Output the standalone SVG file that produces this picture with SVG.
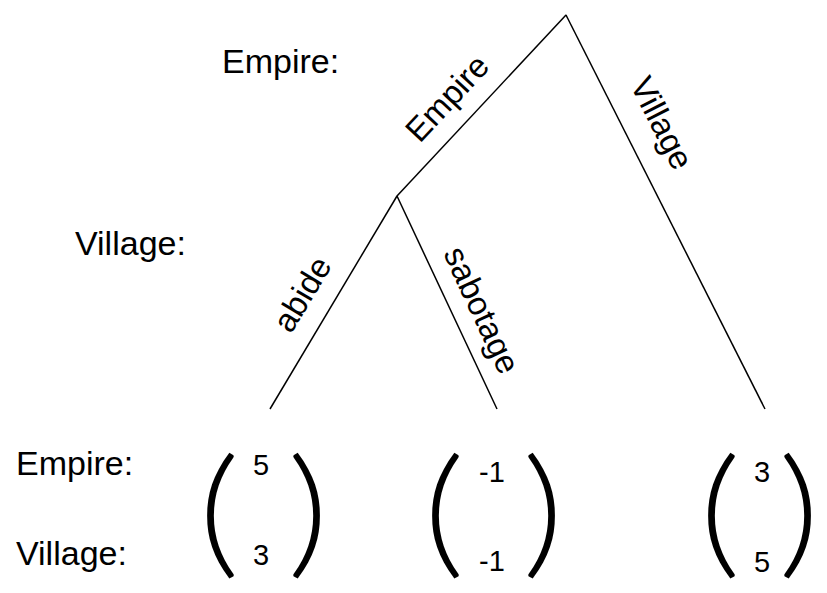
<svg xmlns="http://www.w3.org/2000/svg" width="827" height="593" viewBox="0 0 827 593">
<style>
.t{font-family:"Liberation Sans",Arial,sans-serif;font-size:34px;fill:#000}
.n{font-family:"Liberation Sans",Arial,sans-serif;font-size:29px;fill:#000;text-anchor:middle}
.p{font-family:Lato,"Liberation Sans",sans-serif;font-weight:300;font-size:140px;fill:#000;text-anchor:middle}
.e{stroke:#000;stroke-width:1.5;fill:none}
.l{font-family:"Liberation Sans",Arial,sans-serif;font-size:33px;fill:#000;text-anchor:middle;dominant-baseline:central}
</style>
<rect width="827" height="593" fill="#fff"/>
<g id="row-labels">
<text class="t" x="222" y="73">Empire:</text>
<text class="t" x="75" y="255">Village:</text>
<text class="t" x="16" y="475">Empire:</text>
<text class="t" x="16" y="565">Village:</text>
</g>
<g id="connectors">
<line class="e" x1="566" y1="15" x2="397" y2="196"/>
<line class="e" x1="566" y1="15" x2="765" y2="409"/>
<line class="e" x1="397" y1="196" x2="270" y2="409"/>
<line class="e" x1="397" y1="196" x2="497" y2="409"/>
<text class="l" transform="translate(447,98) rotate(-47)">Empire</text>
<text class="l" transform="translate(662,123) rotate(63)">Village</text>
<text class="l" transform="translate(302,294) rotate(-59)">abide</text>
<text class="l" transform="translate(482,310) rotate(65)">sabotage</text>
</g>
<g id="node-root"><circle cx="566" cy="15" r="0.5" fill="#000"/></g>
<g id="node-village"><circle cx="397" cy="196" r="0.5" fill="#000"/></g>
<g id="payoff-1">
<text class="p" transform="translate(219,560) scale(1.15,1)">(</text>
<text class="n" x="261" y="475">5</text>
<text class="n" x="261" y="565">3</text>
<text class="p" transform="translate(308,560) scale(1.15,1)">)</text>
</g>
<g id="payoff-2">
<text class="p" transform="translate(444,560) scale(1.15,1)">(</text>
<text class="n" x="492" y="482">-1</text>
<text class="n" x="492" y="571">-1</text>
<text class="p" transform="translate(543,560) scale(1.15,1)">)</text>
</g>
<g id="payoff-3">
<text class="p" transform="translate(720,560) scale(1.15,1)">(</text>
<text class="n" x="762" y="482">3</text>
<text class="n" x="762" y="572">5</text>
<text class="p" transform="translate(799,560) scale(1.15,1)">)</text>
</g>
</svg>
